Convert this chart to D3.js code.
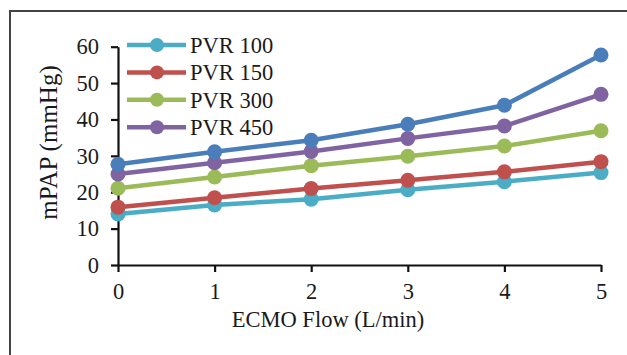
<!DOCTYPE html>
<html>
<head>
<meta charset="utf-8">
<script src="https://cdn.jsdelivr.net/npm/d3@7"></script>
<style>
  html, body { margin: 0; padding: 0; background: #fff; }
  svg { display: block; }
  text { font-family: "Liberation Serif", "Times New Roman", serif; fill: #1a1a1a; }
</style>
</head>
<body>
<svg id="chart" width="627" height="355"></svg>
<script>
// ECMO flow (L/min) on the x axis
const flows = [0, 1, 2, 3, 4, 5];
const xTicks = [0, 1, 2, 3, 4, 5];
const yTicks = [0, 10, 20, 30, 40, 50, 60];

// mPAP (mmHg) for each pulmonary vascular resistance setting
const pvr100 = [14.0, 16.5, 18.1, 20.7, 22.9, 25.4];
const pvr150 = [15.9, 18.5, 21.0, 23.3, 25.6, 28.4];
const pvr300 = [21.1, 24.2, 27.3, 29.9, 32.7, 36.9];
const pvr450 = [25.0, 28.1, 31.2, 34.8, 38.2, 46.9];
const pvrTop = [27.7, 31.1, 34.3, 38.7, 43.9, 57.7];

const seriesNames = ["PVR 100", "PVR 150", "PVR 300", "PVR 450", ""];
const seriesValues = [pvr100, pvr150, pvr300, pvr450, pvrTop];
const seriesColors = ["#4BACC6", "#C0504D", "#9BBB59", "#8064A2", "#4A7EBB"];

const FONT = "Liberation Serif, Times New Roman, serif";
const FS = 22.5;

const svg = d3.select("#chart");

// outer frame (continues past the right and bottom edges)
svg.append("rect")
  .attr("x", 10).attr("y", 11)
  .attr("width", 700).attr("height", 400)
  .attr("fill", "none")
  .attr("stroke", "#444")
  .attr("stroke-width", 2);

const x = d3.scaleLinear().domain([0, 5]).range([118, 601]);
const y = d3.scaleLinear().domain([0, 60]).range([265, 46.7]);

// axes
const yAxis = svg.append("g")
  .attr("transform", `translate(${x(0)},0)`)
  .call(d3.axisLeft(y).tickValues(yTicks).tickFormat(d3.format("d"))
    .tickSize(7).tickPadding(12).tickSizeOuter(0));
const xAxis = svg.append("g")
  .attr("transform", `translate(0,${y(0)})`)
  .call(d3.axisBottom(x).tickValues(xTicks).tickFormat(d3.format("d"))
    .tickSize(7).tickPadding(11).tickSizeOuter(0));

[yAxis, xAxis].forEach(g => {
  g.select(".domain").attr("stroke", "#111").attr("stroke-width", 2.2);
  g.selectAll(".tick line").attr("stroke", "#111").attr("stroke-width", 2.2);
  g.selectAll(".tick text")
    .attr("font-family", FONT)
    .attr("font-size", FS)
    .attr("fill", "#1a1a1a");
});

// axis titles
svg.append("text")
  .attr("x", 328).attr("y", 327)
  .attr("text-anchor", "middle")
  .attr("font-size", FS)
  .text("ECMO Flow (L/min)");

svg.append("text")
  .attr("transform", "translate(57,142.5) rotate(-90)")
  .attr("text-anchor", "middle")
  .attr("font-size", 25)
  .text("mPAP (mmHg)");

// series lines and markers
const line = d3.line()
  .x((d, i) => x(flows[i]))
  .y(d => y(d));

seriesValues.forEach((vals, si) => {
  const g = svg.append("g");
  g.append("path")
    .datum(vals)
    .attr("d", line)
    .attr("fill", "none")
    .attr("stroke", seriesColors[si])
    .attr("stroke-width", 4.5)
    .attr("stroke-linejoin", "round");
  g.selectAll("circle")
    .data(vals)
    .join("circle")
    .attr("cx", (d, i) => x(flows[i]))
    .attr("cy", d => y(d))
    .attr("r", 7.5)
    .attr("fill", seriesColors[si]);
});

// legend
const legendItems = seriesNames
  .map((name, i) => ({ name, color: seriesColors[i] }))
  .filter(d => d.name);
const legend = svg.append("g").attr("transform", "translate(127,45)");
legendItems.forEach((d, i) => {
  const row = legend.append("g").attr("transform", `translate(0,${i * 27.4})`);
  row.append("line")
    .attr("x1", 0).attr("x2", 59)
    .attr("y1", 0).attr("y2", 0)
    .attr("stroke", d.color)
    .attr("stroke-width", 4.5);
  row.append("circle")
    .attr("cx", 30).attr("cy", 0).attr("r", 7)
    .attr("fill", d.color);
  row.append("text")
    .attr("x", 63).attr("y", 0)
    .attr("dy", "0.35em")
    .attr("font-size", FS)
    .text(d.name);
});
</script>
</body>
</html>
